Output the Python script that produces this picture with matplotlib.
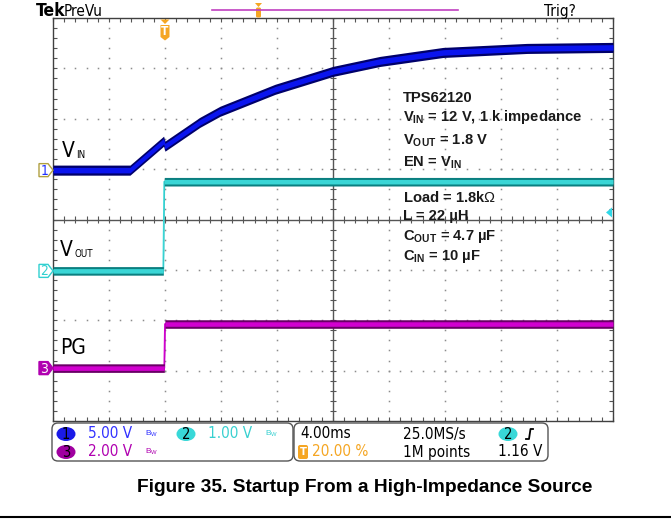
import numpy as np
import matplotlib
matplotlib.use("Agg")
import matplotlib.pyplot as plt
from matplotlib.patches import FancyBboxPatch, Ellipse, Polygon
from matplotlib import font_manager as fm

# ---------------- data ----------------
vin_time_ms = [-8.0, -2.5, -0.1, 0.0, 2.5, 3.93, 7.86, 12.0, 15.36, 19.86, 25.86, 32.0]
vin_volts = [0.0, 0.0, 2.87, 2.38, 4.75, 5.84, 8.02, 9.80, 10.79, 11.68, 12.08, 12.18]

vout_time_ms = [-8.0, -0.12, -0.05, 32.0]
vout_volts = [0.0, 0.0, 1.77, 1.77]

pg_time_ms = [-8.0, -0.05, 0.0, 32.0]
pg_volts = [0.0, 0.0, 1.75, 1.75]

volts_per_div = [5.0, 1.0, 2.0]
ground_offset_div = [0.98, -1.02, -2.95]
trigger_level_v = 1.16
time_per_div_ms = 4.0
trigger_pct = 20.0

trace_labels = [("V", "IN"), ("V", "OUT"), ("PG", None)]
notes = [
    r"TPS62120",
    r"V$_{\mathbf{IN}}$ = 12 V, 1 k impedance",
    r"V$_{\mathbf{OUT}}$ = 1.8 V",
    r"EN = V$_{\mathbf{IN}}$",
    r"Load = 1.8k$\Omega$",
    r"L = 22 µH",
    r"C$_{\mathbf{OUT}}$ = 4.7 µF",
    r"C$_{\mathbf{IN}}$ = 10 µF",
]
caption = "Figure 35. Startup From a High-Impedance Source"

# ---------------- style ----------------
plt.rcParams["font.family"] = ["Liberation Sans", "DejaVu Sans"]
plt.rcParams["mathtext.fontset"] = "custom"
plt.rcParams["mathtext.rm"] = "Liberation Sans"
plt.rcParams["mathtext.bf"] = "Liberation Sans:bold"
plt.rcParams["mathtext.it"] = "Liberation Sans:italic"

names = {f.name for f in fm.fontManager.ttflist}
if "Liberation Sans Narrow" in names:
    NARROW = dict(family="Liberation Sans Narrow")
else:
    NARROW = dict(family="DejaVu Sans", stretch="condensed")

W, H = 671, 527
fig = plt.figure(figsize=(W / 100, H / 100), dpi=100)
fig.patch.set_facecolor("white")
L, R, T, B = 53, 613, 18, 421
ax = fig.add_axes([L / W, 1 - B / H, (R - L) / W, (B - T) / H])
t0 = -trigger_pct / 100 * 10 * time_per_div_ms
t1 = t0 + 10 * time_per_div_ms
ax.set_xlim(t0, t1)
ax.set_ylim(-4, 4)

# graticule
xmin_ticks = np.arange(t0, t1 + 1e-9, time_per_div_ms / 5)
ymin_ticks = np.arange(-4, 4 + 1e-9, 0.2)
ax.set_xticks(xmin_ticks)
ax.set_yticks(ymin_ticks)
ax.tick_params(direction="in", length=3, width=0.8, color="#555555",
               top=True, right=True, labelbottom=False, labelleft=False)
for s in ax.spines.values():
    s.set_color("#404040")
    s.set_linewidth(1.0)
xc = t0 + 5 * time_per_div_ms
dot = dict(ls="none", marker="s", ms=1.1, mew=0, color="#8c8c8c", zorder=1)
for k in range(1, 10):
    xv = t0 + k * time_per_div_ms
    if k == 5:
        continue
    ax.plot(np.full_like(ymin_ticks, xv), ymin_ticks, **dot)
for yv in range(-3, 4):
    if yv == 0:
        continue
    ax.plot(xmin_ticks, np.full_like(xmin_ticks, yv), **dot)
ax.axvline(xc, color="#555555", lw=1.0, zorder=1)
ax.axhline(0, color="#555555", lw=1.0, zorder=1)
ax.vlines(xmin_ticks, -0.07, 0.07, color="#555555", lw=0.8, zorder=1)
ax.hlines(ymin_ticks, xc - 0.22, xc + 0.22, color="#555555", lw=0.8, zorder=1)

# traces: vertical noise band (dark edge, bright core) plus thin edge line
traces = [
    (vin_time_ms, vin_volts, "#0a14ee", "#00006a", 0.1, 0.055),
    (vout_time_ms, vout_volts, "#3ad6d6", "#0b7f80", 0.085, 0.045),
    (pg_time_ms, pg_volts, "#d200d0", "#6a0066", 0.085, 0.045),
]
for i, (tt, vv, c, ec, h_out, h_in) in enumerate(traces):
    tt = np.asarray(tt)
    y = np.asarray(vv) / volts_per_div[i] + ground_offset_div[i]
    ax.plot(tt, y, color=c, lw=1.3, zorder=3 + i)
    ax.fill_between(tt, y - h_out, y + h_out, color=ec, lw=0, zorder=3 + i)
    ax.fill_between(tt, y - h_in, y + h_in, color=c, lw=0, zorder=3 + i)

# overlay in pixel coordinates
ov = fig.add_axes([0, 0, 1, 1], zorder=5)
ov.set_xlim(0, W)
ov.set_ylim(H, 0)
ov.axis("off")
ov.patch.set_alpha(0)


def ypx(ydiv):
    return H - ax.transData.transform((0, ydiv))[1]


def xpx(tms):
    return ax.transData.transform((tms, 0))[0]


# channel ground markers
mk_styles = [("#ffffff", "#b0a040", "#2030ff"),
             ("#ffffff", "#30d0d0", "#30d0d0"),
             ("#b000b0", "#b000b0", "#ffffff")]
for i in range(3):
    yy = ypx(ground_offset_div[i])
    fc, ecl, tc = mk_styles[i]
    ov.add_patch(Polygon([(39, yy - 6.5), (48, yy - 6.5), (53, yy), (48, yy + 6.5), (39, yy + 6.5)],
                         closed=True, fc=fc, ec=ecl, lw=1.0))
    ov.text(44.5, yy + 0.5, str(i + 1), color=tc, fontsize=10, ha="center", va="center", **NARROW)

# trace labels
lab_pos = [(62, 157), (60, 256), (60, 354)]
for (main, sub), (lx, ly) in zip(trace_labels, lab_pos):
    t = ov.text(lx, ly, main, fontsize=15, ha="left", va="baseline", color="black", **NARROW)
    if sub is not None:
        ov.text(lx + 14.5, ly + 1, sub, fontsize=7, ha="left", va="baseline", color="black", **NARROW)

# notes
note_y = [101.5, 121.5, 145, 166.5, 201.5, 220, 240, 260]
for txt, yy in zip(notes, note_y):
    ov.text(403, yy, txt, fontsize=10.6, fontweight="bold", ha="left", va="baseline", color="#1a1a1a")

# trigger level arrow on right
ty = ypx(ground_offset_div[1] + trigger_level_v / volts_per_div[1])
ov.add_patch(Polygon([(606, ty), (612, ty - 5), (612, ty + 5)], closed=True, fc="#30d8e8", ec="none"))

# trigger position marker at top of graticule
orange = "#f5a623"
tx = xpx(0.0)
ov.add_patch(Polygon([(tx - 4.5, 19.5), (tx + 4.5, 19.5), (tx, 24)], closed=True, fc=orange, ec="none"))
ov.add_patch(Polygon([(tx - 4.5, 25), (tx + 4.5, 25), (tx + 4.5, 37), (tx, 40.5), (tx - 4.5, 37)],
                     closed=True, fc=orange, ec="none"))
ov.text(tx, 31.5, "T", color="white", fontsize=8.5, fontweight="bold", ha="center", va="center", **NARROW)

# top bar
ov.text(36, 16, "Tek", fontsize=12.5, fontweight="bold", ha="left", va="baseline", color="black", **NARROW)
ov.text(64, 16, "PreVu", fontsize=11, ha="left", va="baseline", color="black", **NARROW)
ov.text(544, 16, "Trig?", fontsize=11, ha="left", va="baseline", color="black", **NARROW)
ov.plot([212, 458], [10, 10], color="#c040c0", lw=1.2)
ov.add_patch(Polygon([(255, 3), (262, 3), (258.5, 7)], closed=True, fc=orange, ec="none"))
ov.add_patch(FancyBboxPatch((256, 7.5), 5, 10, boxstyle="round,pad=0,rounding_size=1.5",
                            fc=orange, ec="none"))

# status panel
ov.add_patch(FancyBboxPatch((52, 423), 241, 38, boxstyle="round,pad=0,rounding_size=6",
                            fc="white", ec="#555555", lw=1.0))
ov.add_patch(FancyBboxPatch((294, 423), 254, 38, boxstyle="round,pad=0,rounding_size=6",
                            fc="white", ec="#555555", lw=1.0))
r1, r2 = 434, 452
fs = 11


def badge(x, y, n, fc):
    ov.add_patch(Ellipse((x, y), 19, 14, fc=fc, ec="none"))
    ov.text(x, y + 0.5, n, fontsize=10.5, ha="center", va="center", color="black", **NARROW)


badge(66, r1, "1", "#1a1ae8")
ov.text(88, r1, "5.00 V", color="#3030ff", fontsize=fs, ha="left", va="center", **NARROW)
ov.text(145, r1, "B$_{\\mathrm{W}}$", color="#3030ff", fontsize=6, ha="left", va="center")
badge(186, r1, "2", "#38d8d8")
ov.text(208, r1, "1.00 V", color="#38d0d0", fontsize=fs, ha="left", va="center", **NARROW)
ov.text(265, r1, "B$_{\\mathrm{W}}$", color="#38d0d0", fontsize=6, ha="left", va="center")
badge(66, r2, "3", "#a000a0")
ov.text(88, r2, "2.00 V", color="#b000b0", fontsize=fs, ha="left", va="center", **NARROW)
ov.text(145, r2, "B$_{\\mathrm{W}}$", color="#b000b0", fontsize=6, ha="left", va="center")

ov.text(300, r1, "4.00ms", color="black", fontsize=fs, ha="left", va="center", **NARROW)
ov.text(403, r1, "25.0MS/s", color="black", fontsize=fs, ha="left", va="center", **NARROW)
badge(508, r1, "2", "#38d8d8")
ov.plot([526, 529, 530.5, 533], [r1 + 5, r1 + 5, r1 - 5, r1 - 5], color="black", lw=1.3)
ov.add_patch(FancyBboxPatch((298, r2 - 7), 10, 14, boxstyle="round,pad=0,rounding_size=2",
                            fc=orange, ec="none"))
ov.text(303, r2, "T", color="white", fontsize=8, fontweight="bold", ha="center", va="center", **NARROW)
ov.text(312, r2, "20.00 %", color=orange, fontsize=fs, ha="left", va="center", **NARROW)
ov.text(403, r2, "1M points", color="black", fontsize=fs, ha="left", va="center", **NARROW)
ov.text(542, r2, "1.16 V", color="black", fontsize=fs, ha="right", va="center", **NARROW)

# caption and rule
ov.text(365, 487, caption, fontsize=13.8, fontweight="bold", ha="center", va="center", color="black")
ov.plot([0, W], [516.5, 516.5], color="black", lw=1.5)

fig.savefig("out.png", dpi=100, facecolor="white")
